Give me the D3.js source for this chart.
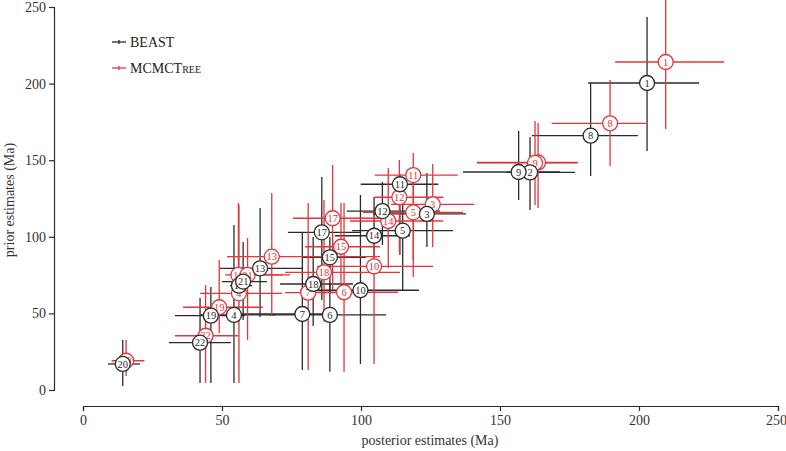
<!DOCTYPE html>
<html>
<head>
<meta charset="utf-8">
<script src="https://cdn.jsdelivr.net/npm/d3@7"></script>
<style>
  body { margin: 0; background: #fff; }
  svg { display: block; }
</style>
</head>
<body>
<svg id="chart" width="786" height="451"></svg>
<script>
// node ids
const nodes = d3.range(1, 23);

// BEAST: posterior mean, posterior HPD, prior mean, prior HPD (Ma)
const beastPost   = [202.9, 160.8, 123.7, 54.3, 115.0, 88.8, 78.9, 182.6, 156.7, 99.8, 114.0, 107.7, 63.7, 104.7, 88.8, 56.1, 85.9, 82.8, 46.0, 14.3, 57.6, 42.1];
const beastPostLo = [181.7, 152.5, 104.3, 42.1, 96.8, 67.3, 57.2, 161.5, 136.7, 78.1, 99.9, 94.9, 49.3, 90.6, 78.8, 52.9, 73.7, 70.9, 33.1, 9.0, 50.0, 30.9];
const beastPostHi = [221.6, 177.0, 137.8, 69.1, 133.1, 109.0, 88.8, 199.6, 171.6, 120.9, 127.8, 128.4, 78.8, 117.6, 101.8, 60.8, 99.6, 97.1, 58.3, 20.5, 66.2, 53.2];
const beastPrior   = [200.4, 142.0, 114.9, 49.0, 104.0, 49.0, 49.6, 166.0, 142.3, 65.1, 134.3, 116.8, 79.4, 100.7, 86.6, 68.1, 102.9, 69.2, 48.5, 17.0, 70.8, 30.9];
const beastPriorLo = [156.0, 117.5, 93.3, 4.6, 65.3, 11.9, 13.1, 139.7, 124.0, 17.0, 88.1, 94.6, 47.7, 82.9, 64.0, 58.7, 58.7, 41.8, 4.6, 2.6, 45.7, 4.6];
const beastPriorHi = [243.5, 165.1, 141.6, 107.7, 124.0, 69.8, 102.5, 200.4, 169.1, 127.3, 141.0, 135.8, 118.8, 126.0, 99.9, 79.6, 139.0, 99.9, 67.2, 32.6, 96.6, 60.1];

// MCMCTree
const mcmcPost   = [209.6, 163.7, 125.8, 56.1, 118.8, 93.9, 81.0, 189.6, 162.6, 104.7, 118.8, 113.8, 67.9, 109.8, 92.8, 55.9, 89.8, 86.7, 49.0, 15.5, 59.2, 44.1];
const mcmcPostLo = [191.4, 141.7, 110.8, 42.1, 100.7, 84.5, 72.7, 168.6, 141.7, 84.2, 105.0, 105.0, 51.8, 96.0, 79.9, 51.1, 75.5, 72.7, 36.0, 10.3, 52.9, 33.1];
const mcmcPostHi = [230.6, 178.1, 140.8, 71.6, 136.7, 113.3, 97.8, 202.5, 177.7, 125.9, 134.8, 129.6, 106.8, 129.5, 106.8, 71.9, 106.8, 114.0, 64.7, 22.1, 74.5, 55.9];
const mcmcPrior   = [214.1, 148.5, 121.2, 63.1, 116.0, 63.8, 63.5, 174.1, 148.2, 80.7, 140.3, 125.8, 87.0, 110.3, 93.5, 75.1, 112.1, 76.8, 54.0, 19.1, 75.1, 35.4];
const mcmcPriorLo = [170.4, 118.8, 93.1, 4.6, 73.8, 11.9, 13.1, 146.2, 120.8, 17.0, 84.9, 90.1, 48.3, 79.6, 58.7, 58.7, 65.3, 44.6, 37.2, 9.1, 32.6, 4.6];
const mcmcPriorHi = [257.8, 174.3, 147.5, 120.8, 137.1, 122.1, 122.1, 202.3, 175.6, 102.5, 154.7, 150.1, 128.6, 144.9, 122.1, 122.1, 146.9, 124.0, 84.9, 32.6, 99.2, 68.5];

const xTicks = [0, 50, 100, 150, 200, 250];
const yTicks = [0, 50, 100, 150, 200, 250];

const black = '#2b2b2b';
const red = '#e2363b';
const font = '"Liberation Serif", "Times New Roman", serif';

function buildSeries(post, postLo, postHi, prior, priorLo, priorHi) {
    return nodes.map((id, i) => ({
        id: id,
        x: post[i], x0: postLo[i], x1: postHi[i],
        y: prior[i], y0: priorLo[i], y1: priorHi[i]
    }));
}

const beast = buildSeries(beastPost, beastPostLo, beastPostHi, beastPrior, beastPriorLo, beastPriorHi);
const mcmc = buildSeries(mcmcPost, mcmcPostLo, mcmcPostHi, mcmcPrior, mcmcPriorLo, mcmcPriorHi);

const svg = d3.select('#chart');

const x = d3.scaleLinear().domain([0, 250]).range([83, 778]);
const y = d3.scaleLinear().domain([0, 250]).range([390, 7]);

// axes
const xAxis = svg.append('g')
    .attr('transform', 'translate(0,406)')
    .call(d3.axisBottom(x).tickValues(xTicks).tickSize(5).tickPadding(4));
const yAxis = svg.append('g')
    .attr('transform', 'translate(54,0)')
    .call(d3.axisLeft(y).tickValues(yTicks).tickSize(5).tickPadding(3));

[xAxis, yAxis].forEach(a => {
    a.select('.domain').attr('stroke', black).attr('stroke-width', 1.2);
    a.selectAll('.tick line').attr('stroke', black).attr('stroke-width', 1.2);
    a.selectAll('.tick text')
        .attr('fill', '#333')
        .attr('font-family', font)
        .attr('font-size', 14);
});
// keep the last x label inside the page
xAxis.selectAll('.tick text').filter(d => d === 250).attr('dx', -2);

svg.append('text')
    .text('posterior estimates (Ma)')
    .attr('x', 430)
    .attr('y', 445)
    .attr('text-anchor', 'middle')
    .attr('fill', '#333')
    .attr('font-family', font)
    .attr('font-size', 14);

svg.append('text')
    .text('prior estimates (Ma)')
    .attr('transform', 'translate(14,200) rotate(-90)')
    .attr('text-anchor', 'middle')
    .attr('fill', '#333')
    .attr('font-family', font)
    .attr('font-size', 14);

// error bars
function drawBars(data, color) {
    const g = svg.append('g')
        .attr('stroke', color)
        .attr('stroke-width', 1.3);
    g.selectAll('line.h')
        .data(data)
        .join('line')
        .attr('class', 'h')
        .attr('x1', d => x(d.x0))
        .attr('x2', d => x(d.x1))
        .attr('y1', d => y(d.y))
        .attr('y2', d => y(d.y));
    g.selectAll('line.v')
        .data(data)
        .join('line')
        .attr('class', 'v')
        .attr('x1', d => x(d.x))
        .attr('x2', d => x(d.x))
        .attr('y1', d => y(d.y0))
        .attr('y2', d => y(d.y1));
}

function drawNodes(data, color) {
    const g = svg.append('g');
    const n = g.selectAll('g')
        .data(data)
        .join('g')
        .attr('transform', d => 'translate(' + x(d.x) + ',' + y(d.y) + ')');
    n.append('circle')
        .attr('r', 7.5)
        .attr('fill', '#fff')
        .attr('stroke', color)
        .attr('stroke-width', 1.3);
    n.append('text')
        .text(d => d.id)
        .attr('y', 3.6)
        .attr('text-anchor', 'middle')
        .attr('fill', color)
        .attr('font-family', font)
        .attr('font-size', 10.5);
}

drawBars(beast, black);
drawBars(mcmc, red);
drawNodes(mcmc, red);
drawNodes(beast, black);

// legend
const legend = [
    { name: 'BEAST', small: '', color: black, y: 42 },
    { name: 'MCMCT', small: 'REE', color: red, y: 68 }
];
legend.forEach(l => {
    svg.append('line')
        .attr('x1', 112).attr('x2', 126)
        .attr('y1', l.y).attr('y2', l.y)
        .attr('stroke', l.color).attr('stroke-width', 1.3);
    svg.append('line')
        .attr('x1', 119).attr('x2', 119)
        .attr('y1', l.y - 2).attr('y2', l.y + 2)
        .attr('stroke', l.color).attr('stroke-width', 1.3);
    const t = svg.append('text')
        .attr('x', 130)
        .attr('y', l.y + 5)
        .attr('fill', '#222')
        .attr('font-family', font)
        .attr('font-size', 14);
    t.append('tspan').text(l.name);
    if (l.small) {
        t.append('tspan').attr('font-size', 10).text(l.small);
    }
});
</script>
</body>
</html>
